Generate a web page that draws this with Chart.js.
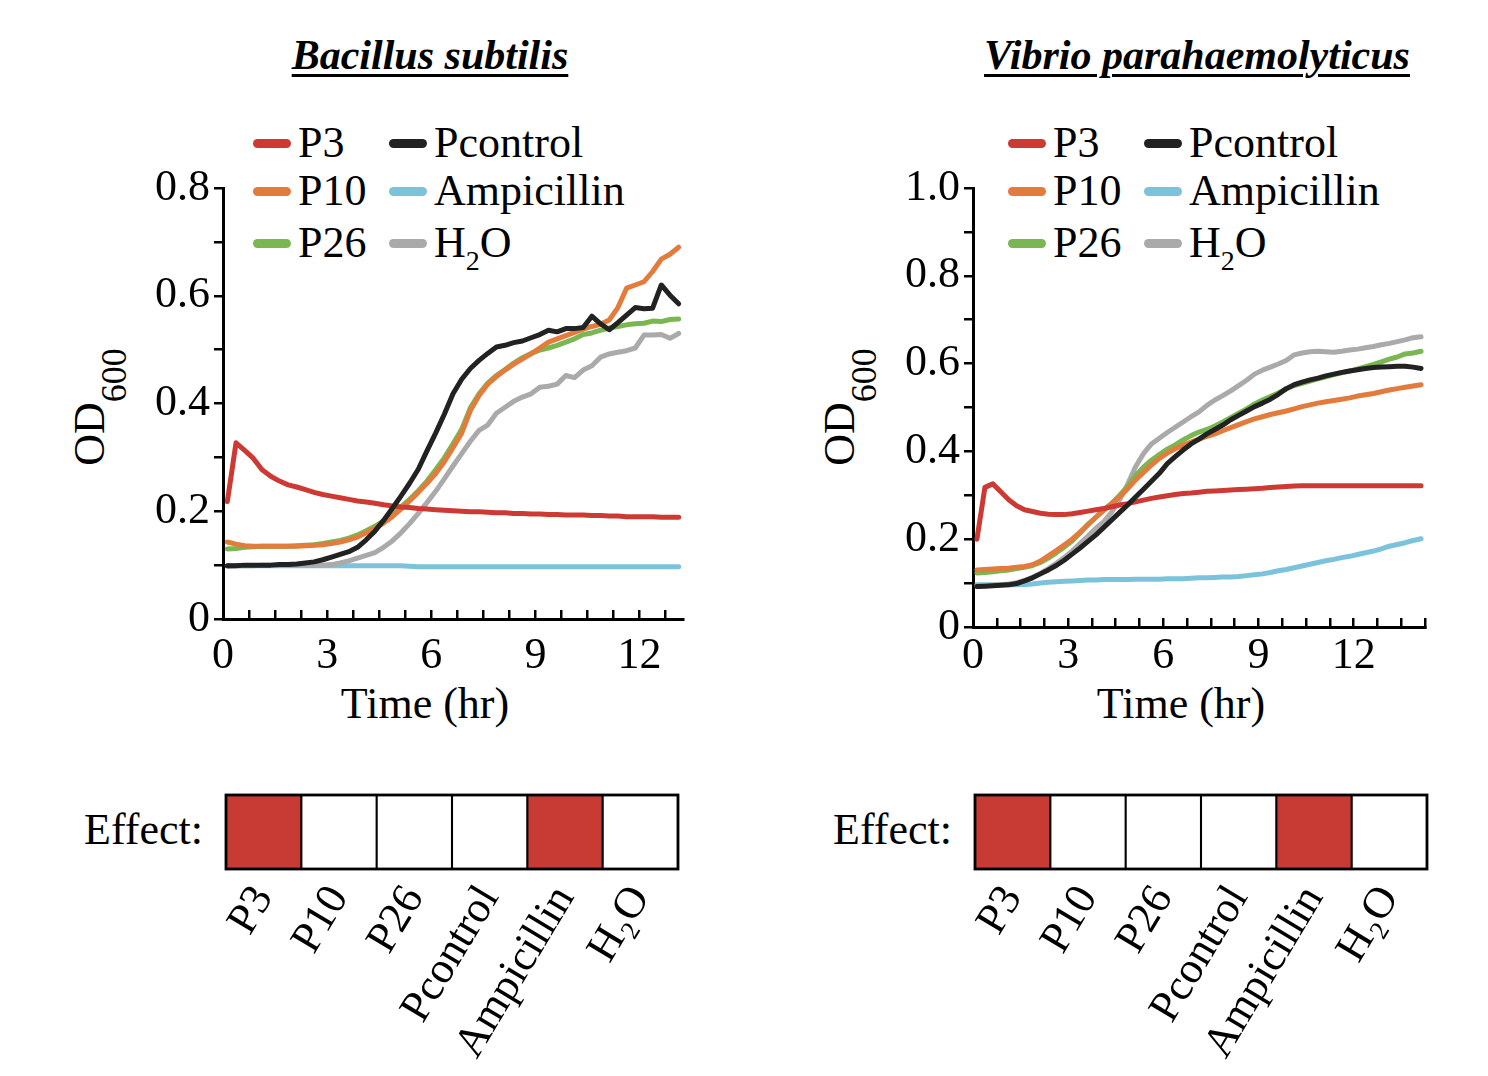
<!DOCTYPE html>
<html><head><meta charset="utf-8">
<script src="https://cdn.jsdelivr.net/npm/chart.js@4/dist/chart.umd.min.js"></script>
<style>
html,body{margin:0;padding:0;background:#fff;}
body{width:1488px;height:1076px;position:relative;overflow:hidden;font-family:'Liberation Serif','Times New Roman',serif;color:#000;}
.abs{position:absolute;white-space:nowrap;}
canvas{position:absolute;}
.title{font-size:42px;font-weight:bold;font-style:italic;text-decoration:underline;text-decoration-thickness:3px;text-underline-offset:5px;line-height:42px;transform:translateX(-50%);}
.t44{font-size:44px;line-height:44px;}
.sw{position:absolute;height:9px;width:38px;border-radius:5px;}
.sub{position:relative;font-size:28px;top:13px;}
.ysub{position:relative;font-size:36px;top:22px;}
.ytitle{font-size:44px;line-height:44px;transform:translate(-50%,-50%) rotate(-90deg);}
</style></head><body>

<div class="abs title" style="left:430px;top:34px;">Bacillus subtilis</div>
<div class="abs title" style="left:1197px;top:34px;">Vibrio parahaemolyticus</div>

<div class="abs ytitle" style="left:91px;top:407px;">OD<span class="ysub">600</span></div>
<div class="abs ytitle" style="left:841px;top:407px;">OD<span class="ysub">600</span></div>

<div class="abs t44" style="left:425px;top:682px;transform:translateX(-50%);">Time (hr)</div>
<div class="abs t44" style="left:1181px;top:682px;transform:translateX(-50%);">Time (hr)</div>

<div class="abs t44" style="right:1285px;top:808px;">Effect:</div>
<div class="abs t44" style="right:536px;top:808px;">Effect:</div>

<div id="legL"></div>
<div id="legR"></div>

<canvas id="lineL" width="720" height="700" style="left:0px;top:100px;"></canvas>
<canvas id="lineR" width="748" height="700" style="left:740px;top:100px;"></canvas>
<canvas id="effL" width="520" height="306" style="left:200px;top:770px;"></canvas>
<canvas id="effR" width="538" height="306" style="left:950px;top:770px;"></canvas>

<script>
// ---------- DATA ----------
const seriesNames = ['P3','P10','P26','Pcontrol','Ampicillin','H₂O'];
const seriesColors = ['#CD3A33','#E27B3B','#7AB752','#222222','#7BC3DB','#AAAAAA'];

// Bacillus subtilis (hr)
const timeBS = [0.125,0.375,0.625,0.875,1.125,1.375,1.625,1.875,2.125,2.375,
  2.625,2.875,3.125,3.375,3.625,3.875,4.125,4.375,4.625,4.875,
  5.125,5.375,5.625,5.875,6.125,6.375,6.625,6.875,7.125,7.375,
  7.625,7.875,8.125,8.375,8.625,8.875,9.125,9.375,9.625,9.875,
  10.125,10.375,10.625,10.875,11.125,11.375,11.625,11.875,12.125,12.375,
  12.625,12.875,13.125];
const bsP3 = [0.218,0.327,0.313,0.298,0.277,0.265,0.256,0.249,0.245,0.240,
  0.235,0.231,0.228,0.225,0.222,0.219,0.217,0.215,0.212,0.210,
  0.208,0.207,0.205,0.204,0.203,0.202,0.201,0.200,0.199,0.199,
  0.198,0.197,0.197,0.196,0.196,0.195,0.195,0.194,0.194,0.193,
  0.193,0.193,0.192,0.192,0.191,0.191,0.190,0.190,0.190,0.190,
  0.189,0.189,0.189];
const bsP10 = [0.143,0.139,0.136,0.135,0.135,0.135,0.135,0.135,0.135,0.136,
  0.137,0.138,0.140,0.143,0.147,0.152,0.160,0.168,0.178,0.190,
  0.204,0.219,0.235,0.252,0.270,0.292,0.318,0.345,0.387,0.415,
  0.436,0.450,0.462,0.473,0.483,0.492,0.503,0.514,0.520,0.526,
  0.532,0.538,0.543,0.547,0.555,0.578,0.614,0.620,0.626,0.645,
  0.668,0.677,0.690];
const bsP26 = [0.130,0.131,0.133,0.134,0.135,0.135,0.135,0.135,0.136,0.137,
  0.138,0.140,0.143,0.146,0.150,0.156,0.164,0.172,0.182,0.195,
  0.208,0.222,0.238,0.256,0.277,0.299,0.325,0.352,0.392,0.418,
  0.438,0.452,0.463,0.475,0.485,0.493,0.499,0.503,0.508,0.514,
  0.520,0.528,0.531,0.536,0.540,0.543,0.546,0.548,0.549,0.553,
  0.552,0.556,0.557];
const bsPcontrol = [0.099,0.099,0.100,0.100,0.100,0.100,0.101,0.101,0.102,0.104,
  0.106,0.110,0.115,0.120,0.125,0.133,0.147,0.163,0.183,0.205,
  0.228,0.252,0.278,0.312,0.345,0.380,0.418,0.445,0.465,0.480,
  0.493,0.505,0.508,0.513,0.516,0.522,0.528,0.536,0.533,0.539,
  0.539,0.541,0.562,0.548,0.537,0.550,0.564,0.578,0.576,0.577,
  0.620,0.601,0.585];
const bsAmpicillin = [0.099,0.099,0.099,0.099,0.099,0.099,0.099,0.099,0.099,0.099,
  0.099,0.099,0.099,0.099,0.099,0.099,0.099,0.099,0.099,0.099,
  0.099,0.098,0.097,0.097,0.097,0.097,0.097,0.097,0.097,0.097,
  0.097,0.097,0.097,0.097,0.097,0.097,0.097,0.097,0.097,0.097,
  0.097,0.097,0.097,0.097,0.097,0.097,0.097,0.097,0.097,0.097,
  0.097,0.097,0.097];
const bsH2O = [0.098,0.099,0.099,0.099,0.100,0.100,0.100,0.100,0.100,0.100,
  0.100,0.100,0.101,0.104,0.108,0.113,0.118,0.123,0.133,0.145,
  0.160,0.177,0.196,0.216,0.237,0.260,0.284,0.307,0.330,0.350,
  0.360,0.382,0.393,0.404,0.412,0.418,0.430,0.432,0.436,0.452,
  0.448,0.462,0.470,0.486,0.492,0.495,0.498,0.503,0.527,0.527,
  0.528,0.521,0.530];

// Vibrio parahaemolyticus (hr)
const timeVP = [0.125,0.375,0.625,0.875,1.125,1.375,1.625,1.875,2.125,2.375,
  2.625,2.875,3.125,3.375,3.625,3.875,4.125,4.375,4.625,4.875,
  5.125,5.375,5.625,5.875,6.125,6.375,6.625,6.875,7.125,7.375,
  7.625,7.875,8.125,8.375,8.625,8.875,9.125,9.375,9.625,9.875,
  10.125,10.375,10.625,10.875,11.125,11.375,11.625,11.875,12.125,12.375,
  12.625,12.875,13.125,13.375,13.625,13.875,14.125];
const vpP3 = [0.200,0.318,0.326,0.308,0.290,0.276,0.267,0.263,0.259,0.257,
  0.256,0.256,0.258,0.261,0.264,0.267,0.270,0.274,0.278,0.281,
  0.285,0.289,0.293,0.296,0.299,0.302,0.304,0.305,0.307,0.309,
  0.310,0.311,0.312,0.313,0.314,0.315,0.316,0.318,0.319,0.320,
  0.321,0.322,0.322,0.322,0.322,0.322,0.322,0.322,0.322,0.322,
  0.322,0.322,0.322,0.322,0.322,0.322,0.322];
const vpP10 = [0.130,0.131,0.132,0.133,0.134,0.136,0.138,0.142,0.150,0.162,
  0.174,0.187,0.200,0.216,0.233,0.250,0.266,0.281,0.297,0.315,
  0.335,0.352,0.369,0.384,0.396,0.406,0.414,0.421,0.428,0.434,
  0.440,0.447,0.454,0.461,0.468,0.474,0.479,0.484,0.488,0.492,
  0.497,0.502,0.506,0.510,0.513,0.516,0.519,0.522,0.526,0.529,
  0.532,0.536,0.540,0.543,0.546,0.549,0.552];
const vpP26 = [0.123,0.124,0.126,0.128,0.130,0.133,0.136,0.140,0.147,0.157,
  0.169,0.182,0.196,0.214,0.234,0.250,0.266,0.282,0.300,0.320,
  0.345,0.364,0.380,0.393,0.405,0.415,0.426,0.436,0.444,0.450,
  0.458,0.467,0.477,0.487,0.497,0.508,0.517,0.525,0.533,0.542,
  0.550,0.555,0.560,0.565,0.570,0.575,0.579,0.583,0.588,0.593,
  0.598,0.604,0.610,0.615,0.622,0.624,0.628];
const vpPcontrol = [0.092,0.093,0.094,0.095,0.096,0.099,0.105,0.112,0.121,0.130,
  0.140,0.152,0.166,0.180,0.195,0.210,0.227,0.244,0.261,0.278,
  0.296,0.314,0.332,0.350,0.372,0.388,0.403,0.417,0.428,0.440,
  0.450,0.460,0.472,0.482,0.492,0.502,0.510,0.519,0.530,0.543,
  0.552,0.558,0.563,0.567,0.572,0.576,0.580,0.583,0.586,0.589,
  0.591,0.592,0.593,0.594,0.594,0.592,0.589];
const vpAmpicillin = [0.096,0.096,0.096,0.096,0.096,0.096,0.097,0.098,0.100,0.102,
  0.103,0.104,0.105,0.106,0.107,0.107,0.108,0.108,0.108,0.108,
  0.109,0.109,0.109,0.109,0.110,0.110,0.110,0.111,0.112,0.112,
  0.113,0.114,0.114,0.115,0.117,0.119,0.121,0.124,0.128,0.131,
  0.135,0.139,0.143,0.147,0.151,0.154,0.158,0.161,0.165,0.169,
  0.173,0.178,0.184,0.188,0.192,0.197,0.201];
const vpH2O = [0.093,0.094,0.095,0.096,0.098,0.101,0.106,0.113,0.122,0.133,
  0.145,0.158,0.173,0.190,0.207,0.225,0.240,0.262,0.290,0.325,
  0.365,0.395,0.417,0.430,0.443,0.455,0.467,0.479,0.490,0.505,
  0.517,0.527,0.538,0.550,0.562,0.576,0.585,0.592,0.599,0.607,
  0.620,0.624,0.627,0.628,0.627,0.626,0.628,0.631,0.633,0.636,
  0.639,0.643,0.646,0.650,0.654,0.659,0.661];

// Effect rows (1 = effect)
const effectCategories = ['P3','P10','P26','Pcontrol','Ampicillin','H₂O'];
const effectBS = [1,0,0,0,1,0];
const effectVP = [1,0,0,0,1,0];
const effectColor = '#C83A34';

// ---------- RENDER ----------
Chart.defaults.font.family = "'Liberation Serif','Times New Roman',serif";
Chart.defaults.color = '#000';

function htmlName(n){ return n.replace('₂','<span class="sub">2</span>'); }

function buildLegend(id, x1, x2, rows){
  const el = document.getElementById(id);
  let html='';
  seriesNames.forEach((n,i)=>{
    const col = i<3?0:1, row = i%3;
    const sx = col===0?x1:x2, cy = rows[row];
    html += `<div class="sw" style="left:${sx}px;top:${cy-4.5}px;background:${seriesColors[i]}"></div>`;
    html += `<div class="abs t44" style="left:${sx+45}px;top:${cy-22}px;">${htmlName(n)}</div>`;
  });
  el.innerHTML = html;
}
buildLegend('legL', 253, 389, [143,191,243]);
buildLegend('legR', 1008, 1144, [143,191,243]);

function lineChart(id, times, values, o){
  const order = [3,0,1,2,5,4];
  const datasets = order.map(i=>({
    label: seriesNames[i],
    data: times.map((t,k)=>({x:t, y:values[i][k]})),
    borderColor: seriesColors[i],
    backgroundColor: seriesColors[i],
    borderWidth: 5, pointRadius: 0, tension: 0,
    borderJoinStyle: 'round', borderCapStyle: 'round', fill: false
  }));
  new Chart(document.getElementById(id), {
    type: 'line',
    data: {datasets},
    options: {
      responsive: false, animation: false,
      layout: {padding: {left: 0, top: o.padTop, right: o.padRight, bottom: 0}},
      plugins: {legend: {display: false}, tooltip: {enabled: false}},
      scales: {
        x: {
          type: 'linear', min: 0, max: o.xMax,
          afterFit: s => { s.height = o.xH; },
          ticks: {stepSize: 0.75, includeBounds: false, autoSkip: false, maxRotation: 0, minRotation: 0,
            padding: o.xPad, font: {size: 44}, color: '#000',
            callback: v => { const r = v/3; return Math.abs(r - Math.round(r)) < 1e-6 ? String(Math.round(v)) : ''; }},
          grid: {display: true, drawOnChartArea: false, drawTicks: true, tickLength: -9, color: '#000', lineWidth: 2.5},
          border: {display: true, color: '#000', width: 3}
        },
        y: {
          min: 0, max: o.yMax,
          afterFit: s => { s.width = o.yW; },
          ticks: {stepSize: 0.1, autoSkip: false, padding: 4, font: {size: 44}, color: '#000',
            callback: v => { const k = Math.round(v*10); return k%2===0 ? (k===0 ? '0' : (k/10).toFixed(1)) : ''; }},
          grid: {display: true, drawOnChartArea: false, drawTicks: true, tickLength: 9, color: '#000', lineWidth: 2.5},
          border: {display: true, color: '#000', width: 3}
        }
      }
    }
  });
}

lineChart('lineL', timeBS, [bsP3,bsP10,bsP26,bsPcontrol,bsAmpicillin,bsH2O],
  {padTop: 88, padRight: 37, xMax: 13.25, yMax: 0.8, xH: 181, yW: 223, xPad: 20});
lineChart('lineR', timeVP, [vpP3,vpP10,vpP26,vpPcontrol,vpAmpicillin,vpH2O],
  {padTop: 88, padRight: 63, xMax: 14.25, yMax: 1.0, xH: 173, yW: 233, xPad: 12});

const outline = {
  id: 'outline',
  afterDatasetsDraw(chart){
    const a = chart.chartArea, c = chart.ctx;
    c.save(); c.strokeStyle = '#000'; c.lineWidth = 2.8;
    c.strokeRect(a.left, a.top, a.right - a.left, a.bottom - a.top);
    c.restore();
  }
};

function effectChart(id, effect, o){
  new Chart(document.getElementById(id), {
    type: 'bar',
    data: {labels: effectCategories, datasets: [{
      data: effect.map(() => 1),
      backgroundColor: effect.map(e => e ? effectColor : '#ffffff'),
      borderColor: '#000', borderWidth: 1.4, borderSkipped: false,
      barPercentage: 1, categoryPercentage: 1
    }]},
    options: {
      responsive: false, animation: false,
      layout: {padding: {left: o.padLeft, top: 25, right: o.padRight, bottom: 0}},
      plugins: {legend: {display: false}, tooltip: {enabled: false}},
      scales: {
        x: {
          afterFit: s => { s.height = 207; },
          grid: {display: false, drawTicks: false},
          border: {display: false},
          ticks: {minRotation: 59, maxRotation: 59, autoSkip: false, padding: 8, font: {size: 44}, color: '#000'}
        },
        y: {display: false, min: 0, max: 1}
      }
    },
    plugins: [outline]
  });
}
effectChart('effL', effectBS, {padLeft: 26, padRight: 42});
effectChart('effR', effectVP, {padLeft: 25, padRight: 61});
</script>
</body></html>
